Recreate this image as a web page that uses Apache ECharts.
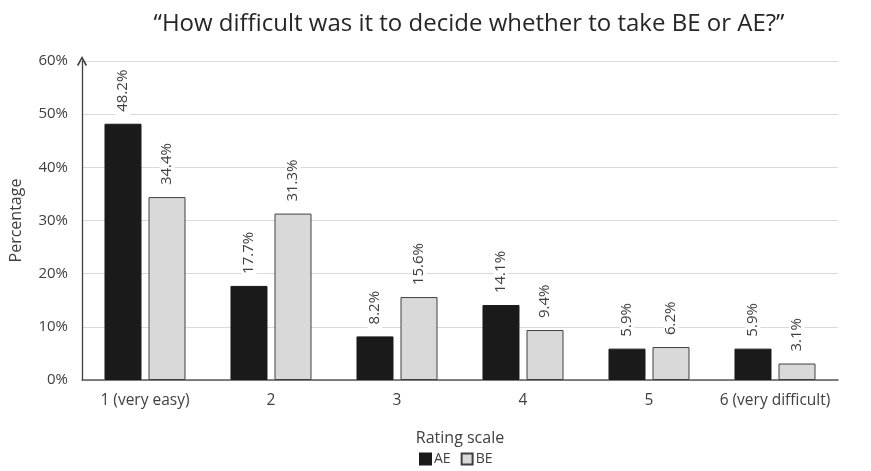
<!DOCTYPE html>
<html>
<head>
<meta charset="utf-8">
<script src="https://cdn.jsdelivr.net/npm/echarts@6/dist/echarts.min.js"></script>
<style>
  html, body { margin: 0; padding: 0; background: #fff; }
  #chart { width: 871px; height: 471px; }
</style>
</head>
<body>
<div id="chart"></div>
<script>
// Rating categories and response shares (percent)
const categories = ['1 (very easy)', '2', '3', '4', '5', '6 (very difficult)'];
const aeValues = [48.2, 17.7, 8.2, 14.1, 5.9, 5.9];
const beValues = [34.4, 31.3, 15.6, 9.4, 6.2, 3.1];
const yTicks = [0, 10, 20, 30, 40, 50, 60];

const FONT = '"Open Sans", "Noto Sans", sans-serif';
const TXT = '#404040';

// Open chevron used as the arrow at the top of the value axis
const chevron = 'path://M0,9 L5,0 L10,9 L8.6,9.9 L5,3.2 L1.4,9.9 Z';

const chart = echarts.init(document.getElementById('chart'));

const labelStyle = {
  show: true,
  position: 'top',
  rotate: 90,
  align: 'left',
  verticalAlign: 'middle',
  distance: 7,
  color: TXT,
  fontFamily: FONT,
  fontSize: 15,
  backgroundColor: '#fff',
  padding: [0, 5],
  formatter: p => p.value.toFixed(1) + '%'
};

chart.setOption({
  animation: false,
  textStyle: { fontFamily: FONT },
  title: {
    text: '\u201CHow difficult was it to decide whether to take BE or AE?\u201D',
    left: 464,
    textAlign: 'center',
    top: 7,
    textStyle: { fontFamily: FONT, fontSize: 24, fontWeight: 'normal', color: '#262626' }
  },
  legend: {
    bottom: 0,
    left: 414,
    itemWidth: 11,
    itemHeight: 11,
    itemGap: 10,
    icon: 'rect',
    textStyle: { fontFamily: FONT, fontSize: 14, color: TXT, padding: [0, 0, 0, -2] },
    data: ['AE', 'BE']
  },
  grid: { left: 80, right: 33, top: 61, bottom: 91 },
  xAxis: {
    type: 'category',
    data: categories,
    name: 'Rating scale',
    nameLocation: 'middle',
    nameGap: 50,
    nameTextStyle: { fontFamily: FONT, fontSize: 16, color: TXT },
    axisLine: { lineStyle: { color: '#595959', width: 1.5 } },
    axisTick: { show: false },
    axisLabel: { interval: 0, fontFamily: FONT, fontSize: 15.5, color: TXT, margin: 13 }
  },
  yAxis: {
    type: 'value',
    min: yTicks[0],
    max: yTicks[yTicks.length - 1],
    interval: 10,
    name: 'Percentage',
    nameLocation: 'middle',
    nameGap: 58,
    nameTextStyle: { fontFamily: FONT, fontSize: 16, color: TXT },
    axisLine: {
      show: true,
      symbol: ['none', chevron],
      symbolSize: [14, 10],
      lineStyle: { color: '#404040', width: 1.3 }
    },
    axisTick: { show: false },
    axisLabel: { fontFamily: FONT, fontSize: 15, color: TXT, margin: 14, formatter: v => v + '%' },
    splitLine: { lineStyle: { color: '#d9d9d9', width: 1 } }
  },
  series: [
    {
      name: 'AE',
      type: 'bar',
      data: aeValues,
      barWidth: 37,
      barGap: '19%',
      itemStyle: { color: '#1a1a1a', borderColor: '#1a1a1a', borderWidth: 1 },
      label: labelStyle
    },
    {
      name: 'BE',
      type: 'bar',
      data: beValues,
      barWidth: 37,
      barGap: '19%',
      itemStyle: { color: '#d9d9d9', borderColor: '#404040', borderWidth: 1 },
      label: labelStyle
    }
  ]
});
</script>
</body>
</html>
